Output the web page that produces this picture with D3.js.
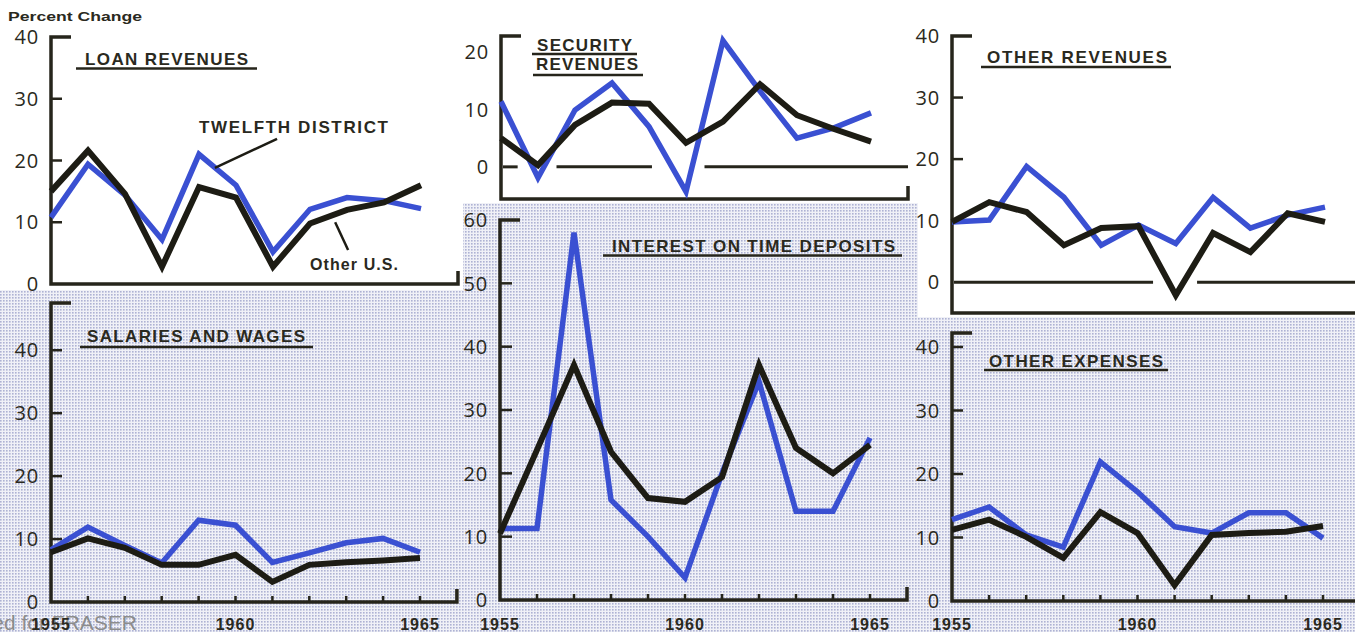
<!DOCTYPE html>
<html><head><meta charset="utf-8">
<script src="https://cdn.jsdelivr.net/npm/d3@7"></script>
<style>html,body{margin:0;padding:0;background:#fff;overflow:hidden}</style>
</head><body>
<svg id="c" width="1355" height="632"></svg>
<script>
// ---------- DATA ----------
const years = [1955,1956,1957,1958,1959,1960,1961,1962,1963,1964,1965];
const yearLabels = [1955,1960,1965];
// Twelfth District (blue) and Other U.S. (black), percent change from previous year
const loanTwelfth   = [10.8,19.4,14.4,7.2,21.0,16.0,5.2,12.1,14.0,13.5,12.2];
const loanOther     = [15.0,21.6,14.6,2.8,15.7,14.0,2.8,9.8,12.0,13.2,16.0];
const secTwelfth    = [11.4,-1.9,9.9,14.6,7.0,-4.3,22.0,13.2,5.0,6.8,9.4];
const secOther      = [5.0,0.3,7.3,11.2,11.0,4.2,7.9,14.4,9.0,6.6,4.4];
const othRevTwelfth = [9.8,10.1,18.8,13.8,6.0,9.3,6.3,13.8,8.8,10.9,12.2];
const othRevOther   = [9.8,13.0,11.4,6.0,8.8,9.1,-2.1,8.0,4.9,11.2,9.8];
const salTwelfth    = [8.3,11.9,9.0,6.2,13.0,12.2,6.3,7.8,9.4,10.1,7.9];
const salOther      = [7.9,10.1,8.6,5.9,5.9,7.5,3.2,5.9,6.3,6.6,7.0];
const intTwelfth    = [11.3,11.3,58.0,15.8,10.0,3.5,20.0,34.5,14.0,14.0,25.6];
const intOther      = [10.5,23.7,37.1,23.4,16.1,15.5,19.4,37.1,24.0,20.0,24.5];
const othExpTwelfth = [12.8,14.8,10.4,8.5,21.9,17.2,11.7,10.7,13.9,13.9,9.9];
const othExpOther   = [11.2,12.8,10.1,6.8,14.0,10.7,2.5,10.4,10.7,10.9,11.8];
const ticks40 = [0,10,20,30,40];
const ticks20 = [0,10,20];
const ticks60 = [0,10,20,30,40,50,60];
// zero-line pieces (in years) for panels that go below zero
const secZeroSegs = [[1955,1955.45],[1956.5,1959.08],[1960.5,1966]];
const othRevZeroSegs = [[1955,1960.39],[1961.57,1966]];

// ---------- LAYOUT ----------
const BLUE = "#3a50d2", BLACK = "#1d1c14", AX = "#26251b", TXT = "#2a2920";
const svg = d3.select("#c");
const defs = svg.append("defs");
const pat = defs.append("pattern").attr("id","dots").attr("patternUnits","userSpaceOnUse")
  .attr("width",3).attr("height",3);
pat.append("rect").attr("width",3).attr("height",3).attr("fill","#f0f1f7");
pat.append("rect").attr("width",1.6).attr("height",1.6).attr("fill","#aeb2d4");

svg.append("rect").attr("width",1355).attr("height",632).attr("fill","url(#dots)");
// white (unshaded) panels
[[0,0,463,290],[463,0,455,203],[918,0,437,317]].forEach(r=>
  svg.append("rect").attr("x",r[0]).attr("y",r[1]).attr("width",r[2]).attr("height",r[3]).attr("fill","#fff"));

svg.append("text").attr("x",8).attr("y",21).attr("font-family","Liberation Sans, Arial, sans-serif")
  .attr("font-weight","bold").attr("font-size",13.5).attr("fill",TXT)
  .attr("textLength",134).attr("lengthAdjust","spacingAndGlyphs").text("Percent Change");

const panels = [
 {blue:loanTwelfth, black:loanOther, ticks:ticks40, dom:[0,40], xr:[51,421], yr:[284,37], tickLen:11, xAxisTicks:false,
  titles:[{t:"LOAN REVENUES", x:85, y:65, len:163, ux:[76,257], uy:68.5}]},
 {blue:secTwelfth, black:secOther, ticks:ticks20, dom:[-5.6,22.8], xr:[501,871], yr:[199,36], tickLen:0, xAxisTicks:false,
  zero:secZeroSegs,
  titles:[{t:"SECURITY", x:537, y:50.5, len:95, ux:[532,637], uy:54},
          {t:"REVENUES", x:536, y:70, len:102, ux:[533,643], uy:75}]},
 {blue:othRevTwelfth, black:othRevOther, ticks:ticks40, dom:[-5.0,40], xr:[952,1325], yr:[313,36], tickLen:11, xAxisTicks:false,
  zero:othRevZeroSegs,
  titles:[{t:"OTHER REVENUES", x:987, y:63, len:180, ux:[981,1171], uy:67}]},
 {blue:salTwelfth, black:salOther, ticks:ticks40, dom:[0,47.5], xr:[51,420], yr:[602,303], tickLen:11, xAxisTicks:true,
  titles:[{t:"SALARIES AND WAGES", x:87, y:342, len:218, ux:[80,313], uy:347}]},
 {blue:intTwelfth, black:intOther, ticks:ticks60, dom:[0,60], xr:[500,870], yr:[600,220], tickLen:12, xAxisTicks:true,
  titles:[{t:"INTEREST ON TIME DEPOSITS", x:612, y:252, len:283, ux:[603,902], uy:255.5}]},
 {blue:othExpTwelfth, black:othExpOther, ticks:ticks40, dom:[0,42.2], xr:[952,1323], yr:[601,333], tickLen:11, xAxisTicks:true,
  titles:[{t:"OTHER EXPENSES", x:989, y:367, len:174, ux:[984,1168], uy:370}]}
];

// watermark (behind labels)
svg.append("text").attr("x",137).attr("y",630).attr("text-anchor","end")
  .attr("font-family","Liberation Sans, Arial, sans-serif").attr("font-size",21).attr("fill","#8c8c8c")
  .text("Digitized for FRASER");

panels.forEach((p,i)=>{
  const x = d3.scaleLinear().domain([1955,1965]).range(p.xr);
  const y = d3.scaleLinear().domain(p.dom).range(p.yr);
  const g = svg.append("g");
  const x0 = x(1955), xEnd = x(1966), yB = y(p.dom[0]), yT = y(p.dom[1]);

  // axes frame: top cap, vertical axis, bottom axis, right end tick
  const ap = d3.path();
  ap.moveTo(x0+20, yT); ap.lineTo(x0, yT); ap.lineTo(x0, yB); ap.lineTo(xEnd, yB); ap.lineTo(xEnd, yB-13);
  g.append("path").attr("d",ap.toString()).attr("fill","none").attr("stroke",AX)
    .attr("stroke-width",3.5).attr("stroke-linejoin","miter");

  // y ticks (inward) and labels
  p.ticks.forEach(v=>{
    if (v !== p.dom[0] && v !== 0 && p.tickLen>0 && Math.abs(y(v)-yT)>2)
      g.append("line").attr("x1",x0).attr("x2",x0+p.tickLen).attr("y1",y(v)).attr("y2",y(v))
        .attr("stroke",AX).attr("stroke-width",2.5);
    g.append("text").attr("x",x0-12).attr("y",y(v)).attr("dy","0.36em").attr("text-anchor","end")
      .attr("font-family","Open Sans, Liberation Sans, sans-serif").attr("font-size",20)
      .attr("letter-spacing",0.8).attr("fill",TXT).text(v);
  });

  // zero line
  if (p.zero) p.zero.forEach(s=>{
    g.append("line").attr("x1",x(s[0])+(s[0]===1955?2:0)).attr("x2",x(s[1])).attr("y1",y(0)).attr("y2",y(0))
      .attr("stroke",AX).attr("stroke-width",3);
  });

  // x axis ticks + labels
  if (p.xAxisTicks){
    years.slice(1).forEach(yr=>{
      g.append("line").attr("x1",x(yr)).attr("x2",x(yr)).attr("y1",yB).attr("y2",yB-6)
        .attr("stroke",AX).attr("stroke-width",2.5);
    });
    yearLabels.forEach(yr=>{
      g.append("text").attr("x",x(yr)).attr("y",630).attr("text-anchor","middle")
        .attr("font-family","Liberation Sans, Arial, sans-serif").attr("font-weight","bold")
        .attr("font-size",16).attr("letter-spacing",1).attr("fill",TXT).text(yr);
    });
  }

  // titles
  p.titles.forEach(t=>{
    g.append("text").attr("x",t.x).attr("y",t.y).attr("font-family","Liberation Sans, Arial, sans-serif")
      .attr("font-weight","bold").attr("font-size",17).attr("fill",TXT)
      .attr("textLength",t.len).attr("lengthAdjust","spacing").text(t.t);
    g.append("line").attr("x1",t.ux[0]).attr("x2",t.ux[1]).attr("y1",t.uy).attr("y2",t.uy)
      .attr("stroke",AX).attr("stroke-width",2.5);
  });

  // series lines
  const line = d3.line().x((d,j)=>x(years[j])).y(d=>y(d));
  g.append("path").datum(p.blue).attr("d",line).attr("fill","none").attr("stroke",BLUE)
    .attr("stroke-width",5.5).attr("stroke-linejoin","miter").attr("stroke-miterlimit",6);
  g.append("path").datum(p.black).attr("d",line).attr("fill","none").attr("stroke",BLACK)
    .attr("stroke-width",6).attr("stroke-linejoin","miter").attr("stroke-miterlimit",6);

  // annotations on loan panel
  if (i===0){
    const ann = [
      {t:"TWELFTH DISTRICT", ax:1959.0, ay:24.45, len:189, fs:17, lx:[1961.11,1959.43], ly:[23.5,18.8]},
      {t:"Other U.S.", ax:1962.0, ay:2.2, len:88, fs:16, lx:[1963.03,1962.68], ly:[5.5,10.0]}
    ];
    ann.forEach(a=>{
      g.append("line").attr("x1",x(a.lx[0])).attr("y1",y(a.ly[0])).attr("x2",x(a.lx[1])).attr("y2",y(a.ly[1]))
        .attr("stroke",BLACK).attr("stroke-width",2.5);
      g.append("text").attr("x",x(a.ax)).attr("y",y(a.ay)).attr("font-family","Liberation Sans, Arial, sans-serif")
        .attr("font-weight","bold").attr("font-size",a.fs).attr("fill",TXT)
        .attr("textLength",a.len).attr("lengthAdjust","spacing").text(a.t);
    });
  }
});
</script>
</body></html>
